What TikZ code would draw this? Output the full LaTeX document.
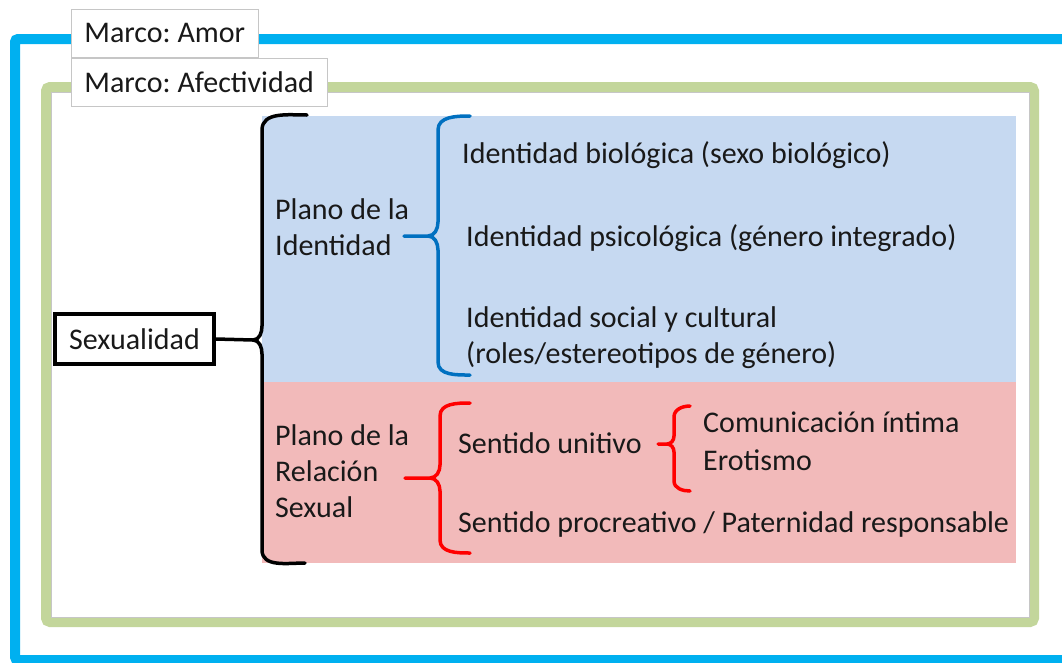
\documentclass[tikz,border=0pt]{standalone}
\usepackage{fontspec}
\setmainfont{Carlito}
\frenchspacing
\definecolor{amorblue}{HTML}{00B0F0}
\definecolor{afectgreen}{HTML}{C3D69B}
\definecolor{identfill}{HTML}{C6D9F1}
\definecolor{relfill}{HTML}{F2BABA}
\definecolor{identbrace}{HTML}{0070C0}
\definecolor{relbrace}{HTML}{FF0000}
\tikzset{
  txt/.style={inner sep=0pt, anchor=base west, align=left, text=black!90,
    font=\fontsize{30}{36}\selectfont},
  marco/.style={draw=gray!45, fill=white, line width=0.8pt, inner xsep=13pt,
    minimum height=48pt, anchor=north west, text=black!90,
    font=\fontsize{30}{36}\selectfont},
  bracket/.style={line width=3.5pt, line cap=round, line join=round},
}
\begin{document}
\begin{tikzpicture}[x=1pt, y=-1pt]
  \useasboundingbox (0,0) rectangle (1062,662);
  % frames
  \draw[amorblue, line width=10pt, rounded corners=3pt] (15,39) rectangle (1085,660);
  \draw[afectgreen, line width=10pt, rounded corners=4pt] (46,87) rectangle (1034,622);
  \draw[gray!45, line width=0.6pt] (51,92) rectangle (1029,617);
  \node[marco] (amor) at (71,9) {Marco: Amor};
  \node[marco] (afect) at (71,58) {Marco: Afectividad};
  % planes
  \fill[identfill] (262,116) rectangle (1016,382);
  \fill[relfill] (262,382) rectangle (1016,563);
  % root
  \node[draw, line width=3.5pt, minimum width=159pt, minimum height=50pt,
    inner sep=0pt, text=black!90, font=\fontsize{30}{36}\selectfont]
    (sex) at (134.5,339) {Sexualidad};
  \coordinate (sextip) at (253,340);
  \draw[bracket] (307,115) to[out=180,in=90] (262,130) -- (262,326)
    to[out=-90,in=0] (sextip) to[out=0,in=90] (262,354) -- (262,550)
    to[out=-90,in=180] (305,563);
  \draw[line width=3.5pt] (sex.east) -- (sextip);
  % plano de la identidad
  \node[txt] (pident) at (275,255) {Plano de la\\Identidad};
  \coordinate (identtip) at (404,236);
  \draw[bracket, identbrace] (470,116) to[out=180,in=90] (438,130) -- (438,222)
    to[out=-90,in=0] (428,236) -- (identtip)
    (428,236) to[out=0,in=90] (438,250) -- (438,362) to[out=-90,in=180] (470,375);
  \node[txt] (bio) at (462,163) {Identidad biológica (sexo biológico)};
  \node[txt] (psico) at (466,246) {Identidad psicológica (género integrado)};
  \node[txt] (social) at (466,363) {Identidad social y cultural\\(roles/estereotipos de género)};
  % plano de la relacion sexual
  \node[txt] (prel) at (275,517) {Plano de la\\Relación\\Sexual};
  \coordinate (reltip) at (405,478);
  \draw[bracket, relbrace] (470,403) to[out=180,in=90] (440,416) -- (440,465)
    to[out=-90,in=0] (430,478) -- (reltip)
    (430,478) to[out=0,in=90] (440,491) -- (440,540) to[out=-90,in=180] (470,553);
  \node[txt] (unit) at (458,453) {Sentido unitivo};
  \node[txt] (procr) at (458,532) {Sentido procreativo / Paternidad responsable};
  \coordinate (unittip) at (658,444);
  \draw[bracket, relbrace] (690,406) to[out=180,in=90] (674,417) -- (674,436)
    to[out=-90,in=0] (667,444) -- (unittip)
    (667,444) to[out=0,in=90] (674,452) -- (674,481) to[out=-90,in=180] (690,491);
  \node[txt] (comun) at (703,432) {Comunicación íntima};
  \node[txt] (erot) at (703,470) {Erotismo};
\end{tikzpicture}
\end{document}
